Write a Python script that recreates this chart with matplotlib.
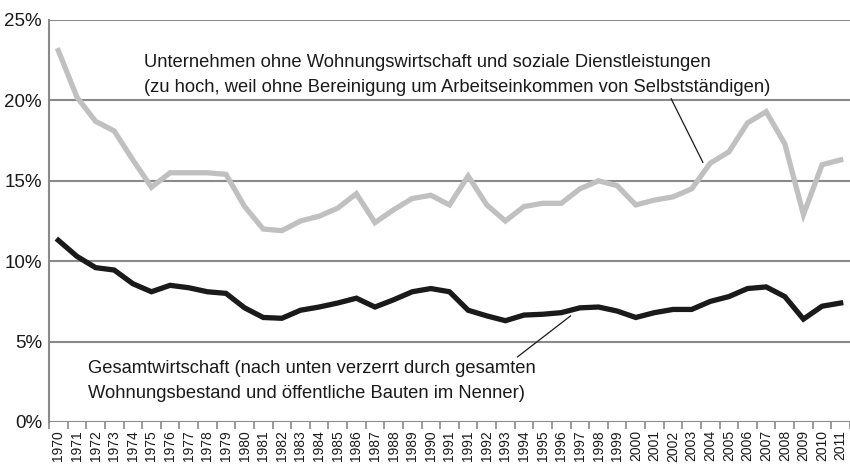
import matplotlib.pyplot as plt
import numpy as np

# Jahre (1991 doppelt: West / Gesamtdeutschland)
jahre = [str(j) for j in range(1970, 1992)] + ["1991"] + [str(j) for j in range(1992, 2012)]

unternehmen = [23.1, 20.2, 18.7, 18.1, 16.3, 14.6, 15.5, 15.5, 15.5, 15.4,
               13.4, 12.0, 11.9, 12.5, 12.8, 13.3, 14.2, 12.4, 13.2, 13.9,
               14.1, 13.5, 15.3, 13.5, 12.5, 13.4, 13.6, 13.6, 14.5, 15.0,
               14.7, 13.5, 13.8, 14.0, 14.5, 16.1, 16.8, 18.6, 19.3, 17.3,
               12.9, 16.0, 16.3]

gesamt = [11.3, 10.3, 9.6, 9.45, 8.6, 8.1, 8.5, 8.35, 8.1, 8.0,
          7.1, 6.5, 6.45, 6.95, 7.15, 7.4, 7.7, 7.15, 7.6, 8.1,
          8.3, 8.1, 6.95, 6.6, 6.3, 6.65, 6.7, 6.8, 7.1, 7.15,
          6.9, 6.5, 6.8, 7.0, 7.0, 7.5, 7.8, 8.3, 8.4, 7.8,
          6.4, 7.2, 7.4]

yticks = [0, 5, 10, 15, 20, 25]

plt.rcParams['font.family'] = ['Liberation Sans', 'DejaVu Sans']

fig = plt.figure(figsize=(8.5, 4.66), dpi=100)
ax = fig.add_axes([49/850, 44/466, 801/850, 402/466])

x = np.arange(len(jahre))

for y in yticks:
    ax.axhline(y, color="#8a8a8a", lw=1.5, zorder=1)

ax.plot(x, unternehmen, color="#c0c0c0", lw=3.8, zorder=3, solid_joinstyle="miter")
ax.plot(x, gesamt, color="#1a1a1a", lw=3.8, zorder=3, solid_joinstyle="miter")

ax.set_xlim(-0.5, len(jahre) - 0.5)
ax.set_ylim(0, 25)

for s in ["top", "right", "bottom"]:
    ax.spines[s].set_visible(False)
ax.spines["left"].set_color("#8a8a8a")
ax.spines["left"].set_linewidth(1.5)

ax.set_yticks(yticks)
ax.set_yticklabels([f"{y}%" for y in yticks], fontsize=13.5, color="#1a1a1a")
ax.tick_params(axis="y", length=0, pad=5)

ax.set_xticks(x)
ax.set_xticklabels(jahre, rotation=90, fontsize=10, color="#1a1a1a")
ax.set_xticks(np.arange(-0.5, len(jahre), 1), minor=True)
ax.tick_params(axis="x", which="major", length=0, pad=6)
ax.tick_params(axis="x", which="minor", length=5, color="#8a8a8a", width=1.2)

# Beschriftungen
ax.text(4.6, 22.35, "Unternehmen ohne Wohnungswirtschaft und soziale Dienstleistungen",
        fontsize=13.2, color="#1a1a1a", va="center")
ax.text(4.6, 20.8, "(zu hoch, weil ohne Bereinigung um Arbeitseinkommen von Selbstständigen)",
        fontsize=13.2, color="#1a1a1a", va="center")
ax.plot([32.9, 34.6], [20.1, 16.15], color="#1a1a1a", lw=0.9, zorder=4)

ax.text(1.6, 3.35, "Gesamtwirtschaft (nach unten verzerrt durch gesamten",
        fontsize=13.2, color="#1a1a1a", va="center")
ax.text(1.6, 1.8, "Wohnungsbestand und öffentliche Bauten im Nenner)",
        fontsize=13.2, color="#1a1a1a", va="center")
ax.plot([24.65, 27.5], [4.05, 6.6], color="#1a1a1a", lw=0.9, zorder=4)

fig.savefig("out.png", dpi=100)
